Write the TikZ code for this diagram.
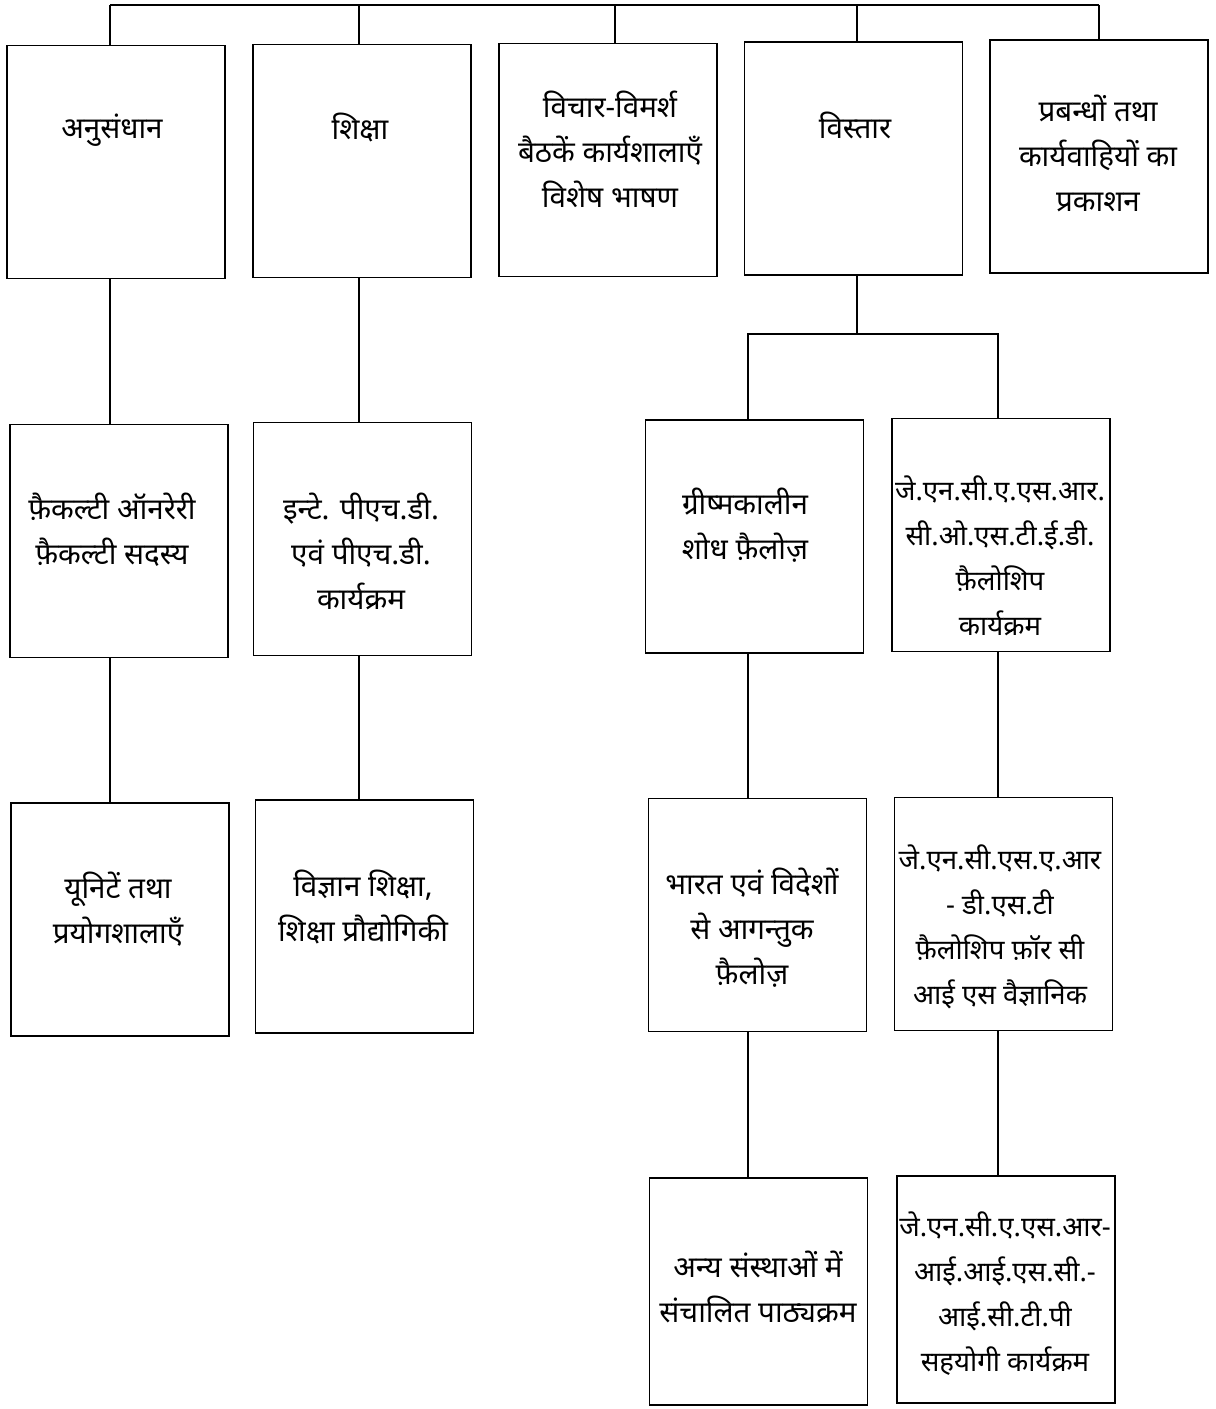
\documentclass[tikz,border=0pt]{standalone}
\usepackage{fontspec}
\newfontfamily\deva[Script=Devanagari]{Noto Sans}
\begin{document}
\begin{tikzpicture}[x=0.5pt,y=-0.5pt,
  box/.style={draw, line width=0.9pt, minimum width=109pt, minimum height=116.5pt, inner sep=0pt},
  lastbox/.style={box, minimum height=113.5pt},
  txt/.style={align=center, inner sep=0pt, font=\deva\fontsize{14.8}{22.5}\selectfont},
  smalltxt/.style={txt, font=\deva\fontsize{13.8}{22.5}\selectfont},
  conn/.style={line width=0.9pt}]
\useasboundingbox (0,0) rectangle (1216,1409);
% column coordinates
\coordinate (h1) at (110,5);
\coordinate (h2) at (359,5);
\coordinate (h3) at (615,5);
\coordinate (h4) at (857,5);
\coordinate (h5) at (1099,5);
\coordinate (ka) at (748,334);
\coordinate (kb) at (998,334);
\coordinate (km) at (857,334);
% row 1
\node[box] (b1) at (116,162) {};
\node[box] (b2) at (362,161) {};
\node[box] (b3) at (608,160) {};
\node[box] (b4) at (853.5,158.5) {};
\node[box] (b5) at (1099,156.5) {};
\node[txt] (tb1) at (112,130) {अनुसंधान};
\node[txt] (tb2) at (360,127) {शिक्षा};
\node[txt] (tb3) at (610,149) {विचार-विमर्श\\ बैठकें कार्यशालाएँ\\ विशेष भाषण};
\node[txt] (tb4) at (855,125) {विस्तार};
\node[txt] (tb5) at (1098,153) {प्रबन्धों तथा\\ कार्यवाहियों का\\ प्रकाशन};
% row 2
\node[box] (c1) at (119,541) {};
\node[box] (c2) at (362.5,539) {};
\node[box] (c3) at (754.5,536.5) {};
\node[box] (c4) at (1001,535) {};
\node[txt] (tc1) at (112,530) {फ़ैकल्टी ऑनरेरी\\ फ़ैकल्टी सदस्य};
\node[txt] (tc2) at (361,551) {इन्टे. पीएच.डी.\\ एवं पीएच.डी.\\ कार्यक्रम};
\node[txt] (tc3) at (745,525) {ग्रीष्मकालीन\\ शोध फ़ैलोज़};
\node[smalltxt] (tc4) at (1000,556) {जे.एन.सी.ए.एस.आर.\\ सी.ओ.एस.टी.ई.डी.\\ फ़ैलोशिप\\ कार्यक्रम};
% row 3
\node[box] (d1) at (120,919.5) {};
\node[box] (d2) at (364.5,916.5) {};
\node[box] (d3) at (757.5,915) {};
\node[box] (d4) at (1003.5,914) {};
\node[txt] (td1) at (118,909) {यूनिटें तथा\\ प्रयोगशालाएँ};
\node[txt] (td2) at (363,907) {विज्ञान शिक्षा,\\ शिक्षा प्रौद्योगिकी};
\node[txt] (td3) at (752,928) {भारत एवं विदेशों\\ से आगन्तुक\\ फ़ैलोज़};
\node[smalltxt] (td4) at (1000,927) {जे.एन.सी.एस.ए.आर\\ - डी.एस.टी\\ फ़ैलोशिप फ़ॉर सी\\ आई एस वैज्ञानिक};
% row 4
\node[lastbox] (e3) at (758.5,1291.5) {};
\node[lastbox] (e4) at (1006,1289.5) {};
\node[txt] (te3) at (758,1287) {अन्य संस्थाओं में\\ संचालित पाठ्यक्रम};
\node[smalltxt] (te4) at (1005,1294) {जे.एन.सी.ए.एस.आर-\\ आई.आई.एस.सी.-\\ आई.सी.टी.पी\\ सहयोगी कार्यक्रम};
% connectors
\draw[conn] (h1) -- (h5);
\draw[conn] (h1) -- (h1 |- b1.north);
\draw[conn] (h2) -- (h2 |- b2.north);
\draw[conn] (h3) -- (h3 |- b3.north);
\draw[conn] (h4) -- (h4 |- b4.north);
\draw[conn] (h5) -- (h5 |- b5.north);
\draw[conn] (b1.south -| h1) -- (c1.north -| h1);
\draw[conn] (c1.south -| h1) -- (d1.north -| h1);
\draw[conn] (b2.south -| h2) -- (c2.north -| h2);
\draw[conn] (c2.south -| h2) -- (d2.north -| h2);
\draw[conn] (b4.south -| km) -- (km);
\draw[conn] (ka |- c3.north) -- (ka) -- (kb) -- (kb |- c4.north);
\draw[conn] (c3.south -| ka) -- (d3.north -| ka);
\draw[conn] (d3.south -| ka) -- (e3.north -| ka);
\draw[conn] (c4.south -| kb) -- (d4.north -| kb);
\draw[conn] (d4.south -| kb) -- (e4.north -| kb);
\end{tikzpicture}
\end{document}
